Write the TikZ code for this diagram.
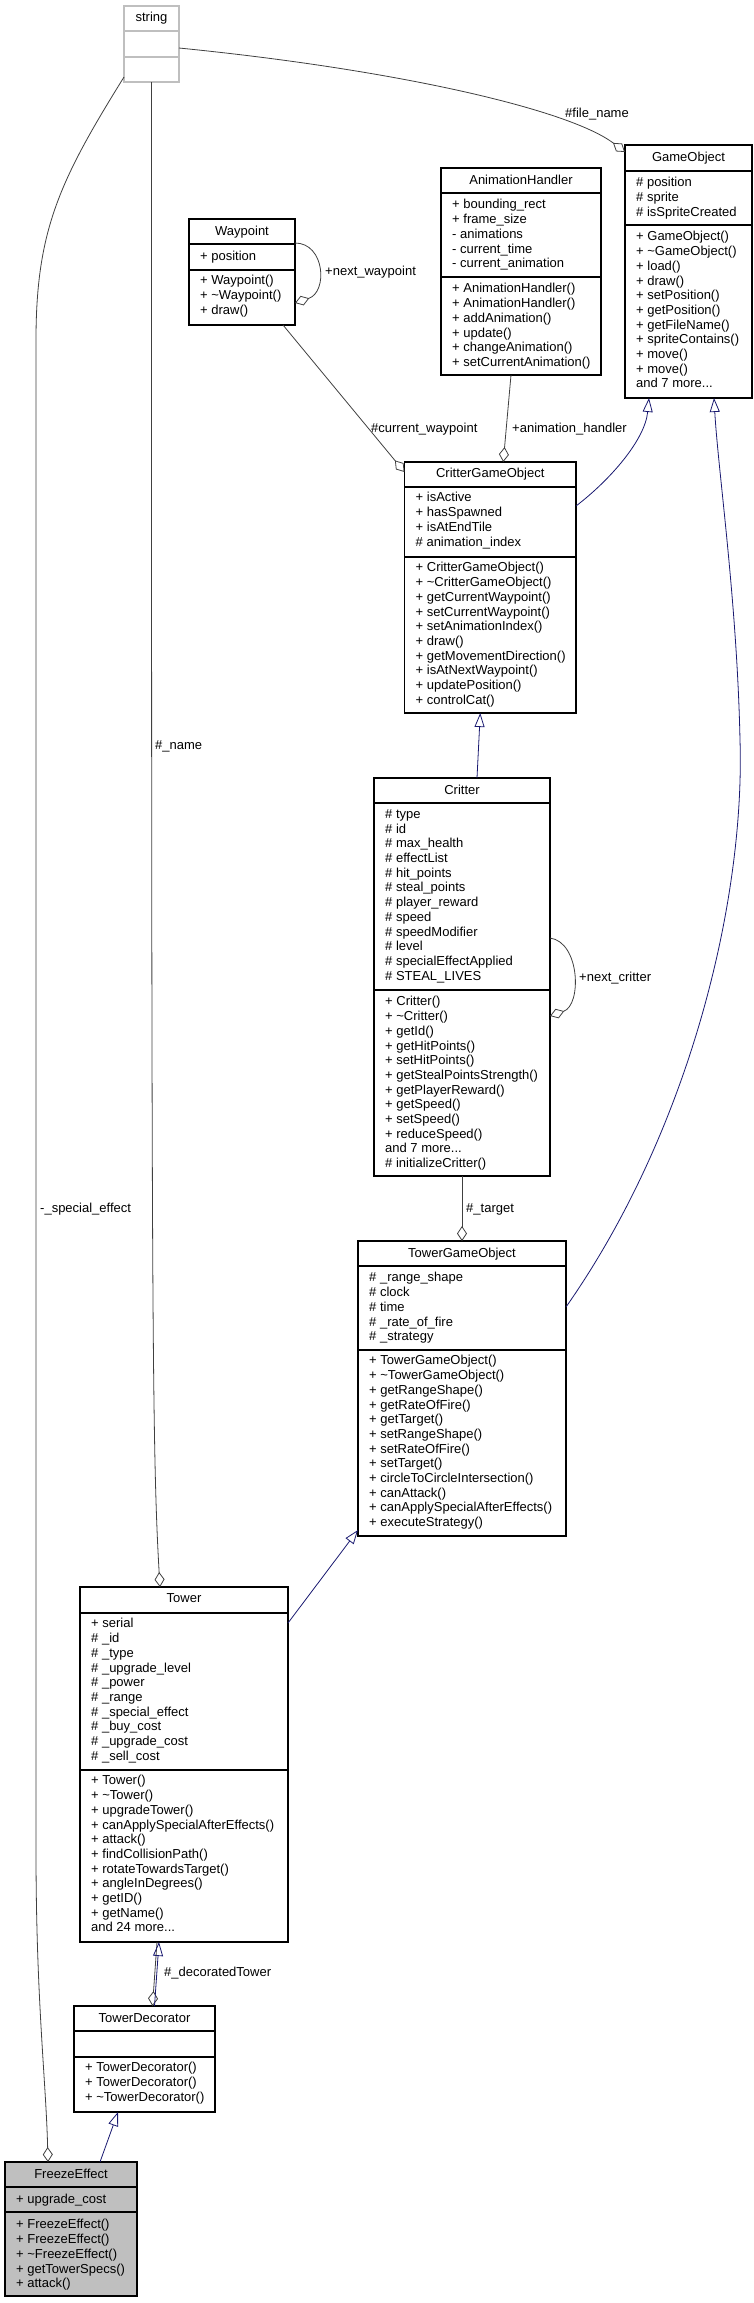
\documentclass[tikz,border=0pt]{standalone}
\usepackage{fontspec}
\setmainfont{Liberation Sans}
\usetikzlibrary{arrows.meta,calc}
\definecolor{inhblue}{HTML}{191970}
\definecolor{agggrey}{HTML}{404040}
\definecolor{strgrey}{HTML}{BFBFBF}
\definecolor{fegrey}{HTML}{BFBFBF}
\tikzset{
  clsbox/.style={draw=black, line width=1.1pt, fill=white, inner sep=0pt, outer sep=0pt, anchor=north west},
  sepl/.style={draw=black, line width=1.1pt},
  ttl/.style={anchor=base, inner sep=0pt, font=\fontsize{13}{14.7}\selectfont},
  sect/.style={anchor=north west, inner sep=0pt, align=left, font=\fontsize{13}{14.7}\selectfont, execute at begin node=\strut},
  lbl/.style={anchor=base west, inner sep=0pt, font=\fontsize{13}{14.7}\selectfont},
  agg/.style={draw=agggrey, line width=0.8pt, -{Diamond[open,length=15pt,width=10pt]}},
  inh/.style={draw=inhblue, line width=0.8pt, -{Triangle[open,length=14pt,width=10pt]}},
}
\newcommand\ClassBox[8]{%
  \node[clsbox,#8,minimum width={(#4-#2)*1pt},minimum height={(#5-#3)*1pt}] (#1) at (#2,#3) {};
  \draw[sepl] (#2,#6) -- (#4,#6) (#2,#7) -- (#4,#7);
}
\begin{document}
\begin{tikzpicture}[x=1pt,y=-1pt]
\useasboundingbox (0,0) rectangle (753,2303);

% string
\node[clsbox,draw=strgrey,minimum width=55pt,minimum height=76pt] (string) at (124,6) {};
\draw[sepl,draw=strgrey] (124,31) -- (179,31) (124,57) -- (179,57);
\node[ttl] (string-t) at (151.5,21.9) {string};

% GameObject
\ClassBox{GO}{625}{145}{752}{398}{171}{225}{}
\node[ttl] (GO-t) at (688.5,161.6) {GameObject};
\node[sect] (GO-a) at (636,177.3) {\# position\\\# sprite\\\# isSpriteCreated};
\node[sect] (GO-m) at (636,231.3) {+ GameObject()\\+ \textasciitilde GameObject()\\+ load()\\+ draw()\\+ setPosition()\\+ getPosition()\\+ getFileName()\\+ spriteContains()\\+ move()\\+ move()\\and 7 more...};

% AnimationHandler
\ClassBox{AH}{441}{168}{601}{375}{193}{277}{}
\node[ttl] (AH-t) at (521,184.6) {AnimationHandler};
\node[sect] (AH-a) at (452,199.3) {+ bounding\_rect\\+ frame\_size\\- animations\\- current\_time\\- current\_animation};
\node[sect] (AH-m) at (452,283.3) {+ AnimationHandler()\\+ AnimationHandler()\\+ addAnimation()\\+ update()\\+ changeAnimation()\\+ setCurrentAnimation()};

% Waypoint
\ClassBox{WP}{189}{219}{295}{325}{244}{270}{}
\node[ttl] (WP-t) at (242,235.6) {Waypoint};
\node[sect] (WP-a) at (200,250.3) {+ position};
\node[sect] (WP-m) at (200,275.3) {+ Waypoint()\\+ \textasciitilde Waypoint()\\+ draw()};

% CritterGameObject
\ClassBox{CGO}{404.5}{462}{576}{713}{487}{557}{}
\node[ttl] (CGO-t) at (490.25,477.6) {CritterGameObject};
\node[sect] (CGO-a) at (415.5,492.3) {+ isActive\\+ hasSpawned\\+ isAtEndTile\\\# animation\_index};
\node[sect] (CGO-m) at (415.5,562.3) {+ CritterGameObject()\\+ \textasciitilde CritterGameObject()\\+ getCurrentWaypoint()\\+ setCurrentWaypoint()\\+ setAnimationIndex()\\+ draw()\\+ getMovementDirection()\\+ isAtNextWaypoint()\\+ updatePosition()\\+ controlCat()};

% Critter
\ClassBox{Critter}{374}{778}{550}{1176}{803}{990}{}
\node[ttl] (Critter-t) at (462,794.6) {Critter};
\node[sect] (Critter-a) at (385,809.3) {\# type\\\# id\\\# max\_health\\\# effectList\\\# hit\_points\\\# steal\_points\\\# player\_reward\\\# speed\\\# speedModifier\\\# level\\\# specialEffectApplied\\\# STEAL\_LIVES};
\node[sect] (Critter-m) at (385,996.3) {+ Critter()\\+ \textasciitilde Critter()\\+ getId()\\+ getHitPoints()\\+ setHitPoints()\\+ getStealPointsStrength()\\+ getPlayerReward()\\+ getSpeed()\\+ setSpeed()\\+ reduceSpeed()\\and 7 more...\\\# initializeCritter()};

% TowerGameObject
\ClassBox{TGO}{358}{1241}{566}{1536}{1266}{1350}{}
\node[ttl] (TGO-t) at (462,1257.6) {TowerGameObject};
\node[sect] (TGO-a) at (369,1272.3) {\# \_range\_shape\\\# clock\\\# time\\\# \_rate\_of\_fire\\\# \_strategy};
\node[sect] (TGO-m) at (369,1355.3) {+ TowerGameObject()\\+ \textasciitilde TowerGameObject()\\+ getRangeShape()\\+ getRateOfFire()\\+ getTarget()\\+ setRangeShape()\\+ setRateOfFire()\\+ setTarget()\\+ circleToCircleIntersection()\\+ canAttack()\\+ canApplySpecialAfterEffects()\\+ executeStrategy()};

% Tower
\ClassBox{Tower}{80}{1587}{288}{1942}{1613}{1770}{}
\node[ttl] (Tower-t) at (184,1602.6) {Tower};
\node[sect] (Tower-a) at (91,1618.3) {+ serial\\\# \_id\\\# \_type\\\# \_upgrade\_level\\\# \_power\\\# \_range\\\# \_special\_effect\\\# \_buy\_cost\\\# \_upgrade\_cost\\\# \_sell\_cost};
\node[sect] (Tower-m) at (91,1775.3) {+ Tower()\\+ \textasciitilde Tower()\\+ upgradeTower()\\+ canApplySpecialAfterEffects()\\+ attack()\\+ findCollisionPath()\\+ rotateTowardsTarget()\\+ angleInDegrees()\\+ getID()\\+ getName()\\and 24 more...};

% TowerDecorator
\ClassBox{TD}{74}{2006}{215}{2112}{2031}{2057}{}
\node[ttl] (TD-t) at (144.5,2022.6) {TowerDecorator};
\node[sect] (TD-m) at (85,2062.3) {+ TowerDecorator()\\+ TowerDecorator()\\+ \textasciitilde TowerDecorator()};

% FreezeEffect
\ClassBox{FE}{5}{2162}{137}{2296}{2187}{2212}{fill=fegrey}
\node[ttl] (FE-t) at (71,2178.6) {FreezeEffect};
\node[sect] (FE-a) at (16,2193.3) {+ upgrade\_cost};
\node[sect] (FE-m) at (16,2219.3) {+ FreezeEffect()\\+ FreezeEffect()\\+ \textasciitilde FreezeEffect()\\+ getTowerSpecs()\\+ attack()};

% connectors
\draw[agg] ($(string.north east)+(0,42)$) .. controls (400,70) and (570,110) .. ($(GO.north west)+(0,7)$);
\node[lbl] (l-file) at (565,117.6) {\#file\_name};

\draw[agg] (string.south) .. controls (151.5,1300) and (152,1450) .. ($(Tower.north west)+(80,0)$);
\node[lbl] (l-name) at (155,749.6) {\#\_name};

\draw[agg] ($(string.south west)+(0,-5)$) .. controls (60,180) and (36,230) .. (36,340) -- (36,1850) .. controls (36,2000) and (46,2080) .. ($(FE.north west)+(43,0)$);
\node[lbl] (l-se) at (40,1212.6) {-\_special\_effect};

\draw[agg] ($(WP.north east)+(0,24)$) .. controls (325,243) and (328,292) .. ($(WP.north east)+(0,84)$);
\node[lbl] (l-nw) at (325,275.6) {+next\_waypoint};

\draw[agg] ($(WP.south)+(41,0)$) -- ($(CGO.north west)+(0,10)$);
\node[lbl] (l-cw) at (371,432.6) {\#current\_waypoint};

\draw[agg] ($(AH.south)+(-10,0)$) -- ($(CGO.north)+(13,0)$);
\node[lbl] (l-ah) at (512,432.6) {+animation\_handler};

\draw[inh] ($(CGO.north east)+(0,44)$) .. controls (610,480) and (645,440) .. ($(GO.south west)+(24,0)$);

\draw[inh] ($(TGO.north east)+(0,66)$) .. controls (690,1130) and (745,900) .. (740,740) .. controls (737,600) and (718,470) .. ($(GO.south west)+(89,0)$);

\draw[inh] ($(Critter.north)+(15,0)$) -- ($(CGO.south)+(-10,0)$);

\draw[agg] ($(Critter.north east)+(0,160)$) .. controls (580,942) and (582,1005) .. ($(Critter.north east)+(0,238)$);
\node[lbl] (l-nc) at (579,981.6) {+next\_critter};

\draw[agg] (Critter.south) -- (TGO.north);
\node[lbl] (l-tg) at (466,1212.6) {\#\_target};

\draw[inh] ($(Tower.north east)+(0,36)$) -- ($(TGO.south west)+(0,-6)$);

\draw[agg] ($(Tower.south)+(-27,0)$) -- ($(TD.north)+(8,0)$);
\draw[inh] ($(TD.north)+(10,0)$) -- ($(Tower.south)+(-25,0)$);
\node[lbl] (l-dt) at (164,1976.6) {\#\_decoratedTower};

\draw[inh] ($(FE.north)+(29,0)$) -- ($(TD.south)+(-26.5,0)$);
\end{tikzpicture}
\end{document}
